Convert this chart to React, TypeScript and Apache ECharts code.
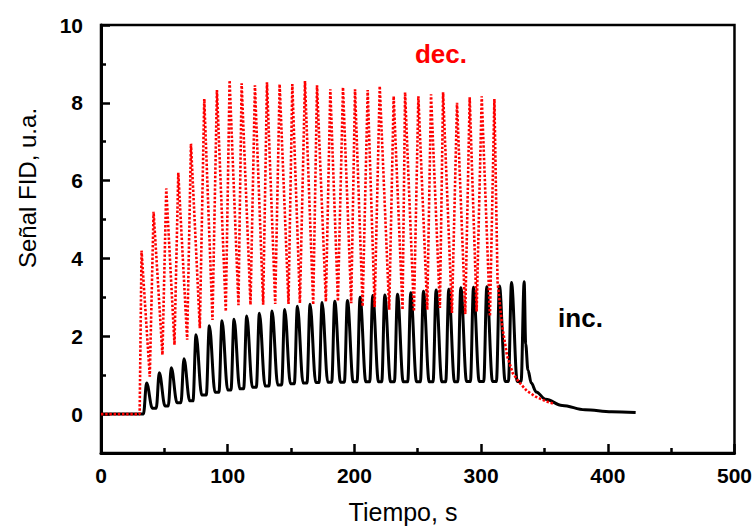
import React, { useEffect, useRef } from 'react';
import * as echarts from 'echarts';

// ---- data ----
// "dec." series (red dotted): peaks, valleys and final decay
const redPeakT = [32, 41.5, 51.5, 61, 71, 81.5, 91.5, 101.5, 111, 121.5, 131, 141, 151, 161, 170.5, 181, 191, 200.5, 210.5, 220, 231, 240, 250.5, 260.5, 270, 281, 291, 300.5, 310.5];
const redPeakV = [4.2, 5.2, 5.8, 6.2, 6.95, 8.1, 8.33, 8.58, 8.5, 8.45, 8.53, 8.48, 8.48, 8.56, 8.45, 8.35, 8.4, 8.35, 8.33, 8.43, 8.17, 8.27, 8.17, 8.22, 8.27, 8.0, 8.14, 8.17, 8.1];
const redValleyT = [38.5, 48.5, 58, 68, 78, 88, 98.5, 108.5, 118, 128, 137.5, 148, 157, 167.5, 177.5, 187, 197.5, 206.5, 216, 227.5, 238, 247, 257.5, 267.5, 277, 287.5, 296.5, 307];
const redValleyV = [0.96, 1.52, 1.78, 1.91, 2.21, 2.42, 2.64, 2.8, 2.81, 2.81, 2.83, 2.83, 2.85, 2.81, 2.89, 2.9, 2.85, 2.77, 2.75, 2.68, 2.68, 2.64, 2.68, 2.73, 2.6, 2.57, 2.64, 2.51];
const redStartT = [0, 30.5];
const redStartV = [0, 0];
const redTailT = [313, 316.5, 320.5, 325, 330, 336, 343, 351, 357];
const redTailV = [3.4, 2.3, 1.5, 1.05, 0.82, 0.6, 0.45, 0.33, 0.27];

// "inc." series (black solid)
const incPeakT = [36, 46, 55.5, 65.5, 75, 85.5, 95.5, 105, 115, 125, 135, 145, 155, 165, 174.5, 184.5, 194.5, 204.5, 214.5, 224, 234, 244.5, 254.5, 264.5, 274.5, 284, 294, 304.5, 314.5, 324, 334];
const incPeakV = [0.8, 1.06, 1.19, 1.42, 2.04, 2.27, 2.4, 2.44, 2.52, 2.59, 2.65, 2.69, 2.77, 2.82, 2.87, 2.9, 2.92, 3.0, 3.05, 3.06, 3.08, 3.12, 3.16, 3.19, 3.21, 3.25, 3.26, 3.27, 3.29, 3.38, 3.4];
const incValleyV = [0.15, 0.21, 0.29, 0.34, 0.49, 0.56, 0.62, 0.65, 0.69, 0.72, 0.75, 0.78, 0.8, 0.81, 0.82, 0.82, 0.83, 0.83, 0.83, 0.83, 0.83, 0.83, 0.83, 0.83, 0.83, 0.84, 0.84, 0.84, 0.84, 0.84];
const incStartT = [0, 33.5];
const incStartV = [0, 0];
const incTailT = [335.2, 337, 339.6, 343.5, 351, 364, 382, 403, 422];
const incTailV = [1.8, 1.13, 0.8, 0.57, 0.38, 0.22, 0.11, 0.06, 0.04];
// waveform timing of each "inc." pulse (s): fall duration after peak, rise duration before peak
const INC_FALL_S = 4.5;
const INC_RISE_S = 2.4;

// axes
const xMajorTicks = [0, 100, 200, 300, 400, 500];
const yMajorTicks = [0, 2, 4, 6, 8, 10];
const yMinorTicks = [1, 3, 5, 7, 9];

const FONT = "'Liberation Sans', Arial, Helvetica, sans-serif";

function buildRed(): number[][] {
  const pts: number[][] = redStartT.map((t, i) => [t, redStartV[i]]);
  pts.push([redPeakT[0], redPeakV[0]]);
  for (let i = 1; i < redPeakT.length; i++) {
    pts.push([redValleyT[i - 1], redValleyV[i - 1]]);
    pts.push([redPeakT[i], redPeakV[i]]);
  }
  redTailT.forEach((t, i) => pts.push([t, redTailV[i]]));
  return pts;
}

function buildInc(): number[][] {
  const pts: number[][] = incStartT.map((t, i) => [t, incStartV[i]]);
  for (let i = 0; i < incPeakT.length; i++) {
    pts.push([incPeakT[i], incPeakV[i]]);
    if (i < incValleyV.length) {
      pts.push([incPeakT[i] + INC_FALL_S, incValleyV[i]]);
      pts.push([incPeakT[i + 1] - INC_RISE_S, incValleyV[i]]);
    }
  }
  incTailT.forEach((t, i) => pts.push([t, incTailV[i]]));
  return pts;
}

export default function App() {
  const ref = useRef<HTMLDivElement>(null);
  useEffect(() => {
    if (!ref.current) return;
    const chart = echarts.init(ref.current, null, { renderer: 'svg' });
    const gridPos = { left: 101, right: 17, top: 25, bottom: 75 };
    const tickLine = { color: '#000', width: 2.5 };
    chart.setOption({
      animation: false,
      backgroundColor: '#fff',
      grid: [
        { ...gridPos, show: true, borderColor: '#000', borderWidth: 2.5, backgroundColor: 'transparent' },
        { ...gridPos, show: false },
      ],
      xAxis: [
        {
          type: 'value', gridIndex: 0, min: 0, max: 500, interval: 100, position: 'bottom',
          axisLine: { show: true, onZero: false, lineStyle: { color: '#000', width: 3 } },
          axisTick: { show: true, inside: true, length: 9, lineStyle: tickLine, customValues: xMajorTicks },
          minorTick: { show: true, splitNumber: 2, length: 5, lineStyle: tickLine },
          splitLine: { show: false },
          minorSplitLine: { show: false },
          axisLabel: { customValues: xMajorTicks, fontFamily: FONT, fontWeight: 'bold', fontSize: 21, color: '#000', margin: 12 },
        },
        { type: 'value', gridIndex: 1, min: 0, max: 500, show: false },
      ],
      yAxis: [
        {
          type: 'value', gridIndex: 0, min: -1, max: 10, position: 'left',
          axisLine: { show: true, onZero: false, lineStyle: { color: '#000', width: 3 } },
          axisTick: { show: true, inside: true, length: 9, lineStyle: tickLine, customValues: yMajorTicks },
          splitLine: { show: false },
          axisLabel: { customValues: yMajorTicks, fontFamily: FONT, fontWeight: 'bold', fontSize: 21, color: '#000', margin: 18 },
        },
        {
          type: 'value', gridIndex: 1, min: -1, max: 10, position: 'left',
          axisLine: { show: false },
          axisTick: { show: true, inside: true, length: 5, lineStyle: tickLine, customValues: yMinorTicks },
          axisLabel: { show: false },
          splitLine: { show: false },
        },
      ],
      series: [
        {
          name: 'inc.', type: 'line', xAxisIndex: 0, yAxisIndex: 0,
          data: buildInc(), showSymbol: false, symbol: 'none',
          smooth: 0.35, smoothMonotone: 'x',
          lineStyle: { color: '#000', width: 3 },
          z: 2,
        },
        {
          name: 'dec.', type: 'line', xAxisIndex: 0, yAxisIndex: 0,
          data: buildRed(), showSymbol: false, symbol: 'none',
          lineStyle: { color: '#ff0000', width: 2.6, type: [2.4, 1.8], cap: 'butt' },
          z: 3,
        },
      ],
      graphic: [
        { type: 'text', x: 27, y: 188, rotation: Math.PI / 2, style: { text: 'Señal FID, u.a.', fontFamily: FONT, fontSize: 24, fill: '#000', align: 'center', verticalAlign: 'middle' } },
        { type: 'text', x: 403, y: 512, style: { text: 'Tiempo, s', fontFamily: FONT, fontSize: 25, fill: '#000', align: 'center', verticalAlign: 'middle' } },
        { type: 'text', x: 441, y: 53.5, style: { text: 'dec.', fontFamily: FONT, fontSize: 26, fontWeight: 'bold', fill: '#ff0000', align: 'center', verticalAlign: 'middle' } },
        { type: 'text', x: 580.5, y: 318, style: { text: 'inc.', fontFamily: FONT, fontSize: 26, fontWeight: 'bold', fill: '#000', align: 'center', verticalAlign: 'middle' } },
      ],
    });
    return () => chart.dispose();
  }, []);
  return <div ref={ref} style={{ position: 'fixed', left: 0, top: 0, width: 755, height: 528 }} />;
}
